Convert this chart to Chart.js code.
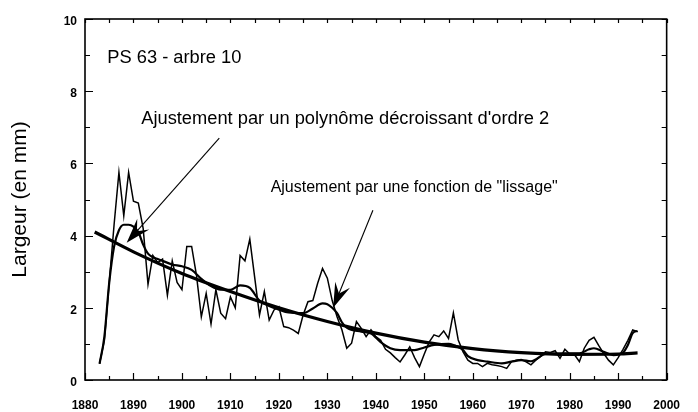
<!DOCTYPE html>
<html>
<head>
<meta charset="utf-8">
<script src="https://cdn.jsdelivr.net/npm/chart.js@4.4.0/dist/chart.umd.min.js"></script>
<style>
  html, body { margin: 0; padding: 0; background: #fff; }
  #wrap { width: 698px; height: 412px; }
</style>
</head>
<body>
<div id="wrap"><canvas id="c" width="698" height="412"></canvas></div>
<script>
// Ring widths (mm) per year
const rawYears = [
  1883,1884,1885,1886,1887,1888,1889,1890,1891,1892,1893,1894,1895,1896,1897,1898,1899,
  1900,1901,1902,1903,1904,1905,1906,1907,1908,1909,1910,1911,1912,1913,1914,1915,1916,
  1917,1918,1919,1920,1921,1922,1923,1924,1925,1926,1927,1928,1929,1930,1931,1932,1933,
  1934,1935,1936,1937,1938,1939,1940,1941,1942,1943,1944,1945,1946,1947,1948,1949,1950,
  1951,1952,1953,1954,1955,1956,1957,1958,1959,1960,1961,1962,1963,1964,1965,1966,1967,
  1968,1969,1970,1971,1972,1973,1974,1975,1976,1977,1978,1979,1980,1981,1982,1983,1984,
  1985,1986,1987,1988,1989,1990,1991,1992,1993,1994
];
const rawWidths = [
  0.45,1.1,2.7,4.3,5.75,4.55,5.75,4.95,4.9,4.2,2.65,3.45,3.25,3.35,2.35,3.3,2.7,
  2.5,3.7,3.7,2.9,1.75,2.4,1.55,2.5,1.85,1.7,2.3,2.0,3.45,3.3,3.9,2.85,1.8,
  2.45,1.66,1.94,2.03,1.48,1.45,1.38,1.29,1.8,2.17,2.2,2.68,3.09,2.82,2.2,1.75,1.39,
  0.88,1.02,1.62,1.43,1.2,1.39,1.2,1.1,0.85,0.75,0.62,0.5,0.7,0.92,0.62,0.37,0.72,
  1.05,1.25,1.2,1.36,1.15,1.86,1.11,0.78,0.55,0.46,0.46,0.37,0.46,0.42,0.4,0.37,0.32,
  0.51,0.55,0.57,0.5,0.42,0.55,0.65,0.78,0.76,0.81,0.6,0.85,0.72,0.7,0.51,0.88,1.1,
  1.18,0.95,0.74,0.55,0.42,0.62,0.85,1.1,1.39,1.34
];

// Smoothing function ("lissage")
const smoothYears = [
  1883,1884,1885,1886,1887,1888,1889,1890,1891,1892,1893,1894,1895,1896,1898,1900,1902,
  1904,1906,1908,1910,1912,1914,1916,1918,1920,1922,1925,1927,1929,1930,1931,1932,1933,
  1934,1937,1939,1941,1943,1945,1948,1950,1952,1955,1956,1958,1959,1961,1963,1966,1968,
  1970,1972,1975,1979,1982,1984,1985,1987,1989,1991,1992,1993,1994
];
const smoothWidths = [
  0.45,1.2,2.7,3.7,4.15,4.3,4.3,4.25,4.1,3.75,3.5,3.4,3.35,3.3,3.2,3.15,3.05,
  2.8,2.6,2.5,2.5,2.62,2.55,2.2,2.05,1.95,1.87,1.85,1.98,2.12,2.1,2.0,1.85,1.6,
  1.45,1.34,1.29,1.05,0.88,0.83,0.83,0.9,0.97,1.0,0.97,0.83,0.66,0.55,0.51,0.46,0.51,
  0.55,0.52,0.72,0.74,0.74,0.85,0.88,0.78,0.69,0.76,0.97,1.3,1.36
];

// Decreasing second-order polynomial fit
const polyYears  = [1882,1890,1900,1910,1920,1930,1940,1950,1960,1970,1980,1990,1994];
const polyWidths = [4.1,3.55,2.95,2.45,2.0,1.62,1.3,1.05,0.87,0.76,0.71,0.72,0.75];

const xMin = 1880, xMax = 2000, xStep = 10;
const yMin = 0, yMax = 10, yStep = 2;

const plotTitle = 'PS 63 - arbre 10';
const notePoly = "Ajustement par un polynôme décroissant d'ordre 2";
const noteSmooth = 'Ajustement par une fonction de "lissage"';
const yTitle = 'Largeur (en mm)';

const FONT = '"Liberation Sans", Arial, sans-serif';
const toPoints = (xs, ys) => xs.map((x, i) => ({ x, y: ys[i] }));

// Frame with inward ticks on all four sides
const frameTicks = {
  id: 'frameTicks',
  afterDraw(chart) {
    const { ctx, chartArea: a, scales: { x, y } } = chart;
    ctx.save();
    ctx.strokeStyle = '#000';
    ctx.lineWidth = 1.6;
    ctx.strokeRect(a.left, a.top, a.right - a.left, a.bottom - a.top);
    ctx.lineWidth = 1.2;
    ctx.beginPath();
    for (let yr = xMin; yr <= xMax; yr += 5) {
      const px = Math.round(x.getPixelForValue(yr)) + 0.5;
      const major = yr % 10 === 0;
      ctx.moveTo(px, a.bottom); ctx.lineTo(px, a.bottom - (major ? 7 : 4));
      ctx.moveTo(px, a.top); ctx.lineTo(px, a.top + 4);
    }
    for (let v = yMin; v <= yMax; v += 1) {
      const py = Math.round(y.getPixelForValue(v)) + 0.5;
      const major = v % 2 === 0;
      ctx.moveTo(a.left, py); ctx.lineTo(a.left + (major ? 8 : 5), py);
      ctx.moveTo(a.right, py); ctx.lineTo(a.right - 5, py);
    }
    ctx.stroke();
    ctx.restore();
  }
};

function drawArrow(ctx, x0, y0, x1, y1, len, half) {
  const ang = Math.atan2(y1 - y0, x1 - x0);
  const c = Math.cos(ang), s = Math.sin(ang);
  ctx.beginPath();
  ctx.moveTo(x0, y0);
  ctx.lineTo(x1 - c * len * 0.5, y1 - s * len * 0.5);
  ctx.stroke();
  const bx = x1 - c * len, by = y1 - s * len;
  const nx = -s, ny = c;
  ctx.beginPath();
  ctx.moveTo(x1, y1);
  ctx.lineTo(bx + nx * half, by + ny * half);
  ctx.lineTo(x1 - c * len * 0.62, y1 - s * len * 0.62);
  ctx.lineTo(bx - nx * half, by - ny * half);
  ctx.closePath();
  ctx.fill();
}

// Caption and the two labelled arrows
const notes = {
  id: 'notes',
  afterDatasetsDraw(chart) {
    const { ctx, scales: { x, y } } = chart;
    const X = v => x.getPixelForValue(v), Y = v => y.getPixelForValue(v);
    ctx.save();
    ctx.fillStyle = '#000';
    ctx.strokeStyle = '#000';
    ctx.textBaseline = 'alphabetic';
    ctx.textAlign = 'left';
    ctx.font = '18.3px ' + FONT;
    ctx.fillText(plotTitle, X(1884.6), Y(8.78));
    ctx.fillText(notePoly, X(1891.6), Y(7.09));
    ctx.font = '16px ' + FONT;
    ctx.fillText(noteSmooth, X(1918.3), Y(5.2));
    ctx.lineWidth = 1.1;
    drawArrow(ctx, X(1907.7), Y(6.7), X(1888.6), Y(3.8), 25, 8);
    drawArrow(ctx, X(1939.4), Y(4.7), X(1931.2), Y(2.0), 25, 8);
    ctx.restore();
  }
};

new Chart(document.getElementById('c'), {
  type: 'line',
  data: {
    datasets: [
      {
        label: 'largeur',
        data: toPoints(rawYears, rawWidths),
        borderColor: '#000',
        borderWidth: 1.5,
        pointRadius: 0,
        tension: 0
      },
      {
        label: 'lissage',
        data: toPoints(smoothYears, smoothWidths),
        borderColor: '#000',
        borderWidth: 2.2,
        pointRadius: 0,
        cubicInterpolationMode: 'monotone'
      },
      {
        label: 'polynôme',
        data: toPoints(polyYears, polyWidths),
        borderColor: '#000',
        borderWidth: 3.2,
        pointRadius: 0,
        cubicInterpolationMode: 'monotone'
      }
    ]
  },
  options: {
    responsive: false,
    devicePixelRatio: 1,
    animation: false,
    layout: { padding: { top: 19, right: 15, left: 0, bottom: 0 } },
    plugins: { legend: { display: false }, tooltip: { enabled: false } },
    scales: {
      x: {
        type: 'linear',
        min: xMin, max: xMax,
        grid: { display: false, drawTicks: false },
        border: { display: false },
        ticks: {
          stepSize: xStep,
          padding: 18,
          color: '#000',
          font: { family: FONT, size: 12, weight: 'bold' },
          callback: v => String(v),
          maxRotation: 0
        },
        afterFit: s => { s.height = 32; }
      },
      y: {
        min: yMin, max: yMax,
        grid: { display: false, drawTicks: false },
        border: { display: false },
        ticks: {
          stepSize: yStep,
          padding: 8,
          labelOffset: 2.5,
          color: '#000',
          font: { family: FONT, size: 12, weight: 'bold' }
        },
        title: {
          display: true,
          text: yTitle,
          color: '#000',
          padding: { top: 8, bottom: 0 },
          font: { family: FONT, size: 21 }
        },
        afterFit: s => { s.width = 85; }
      }
    }
  },
  plugins: [frameTicks, notes]
});
</script>
</body>
</html>
